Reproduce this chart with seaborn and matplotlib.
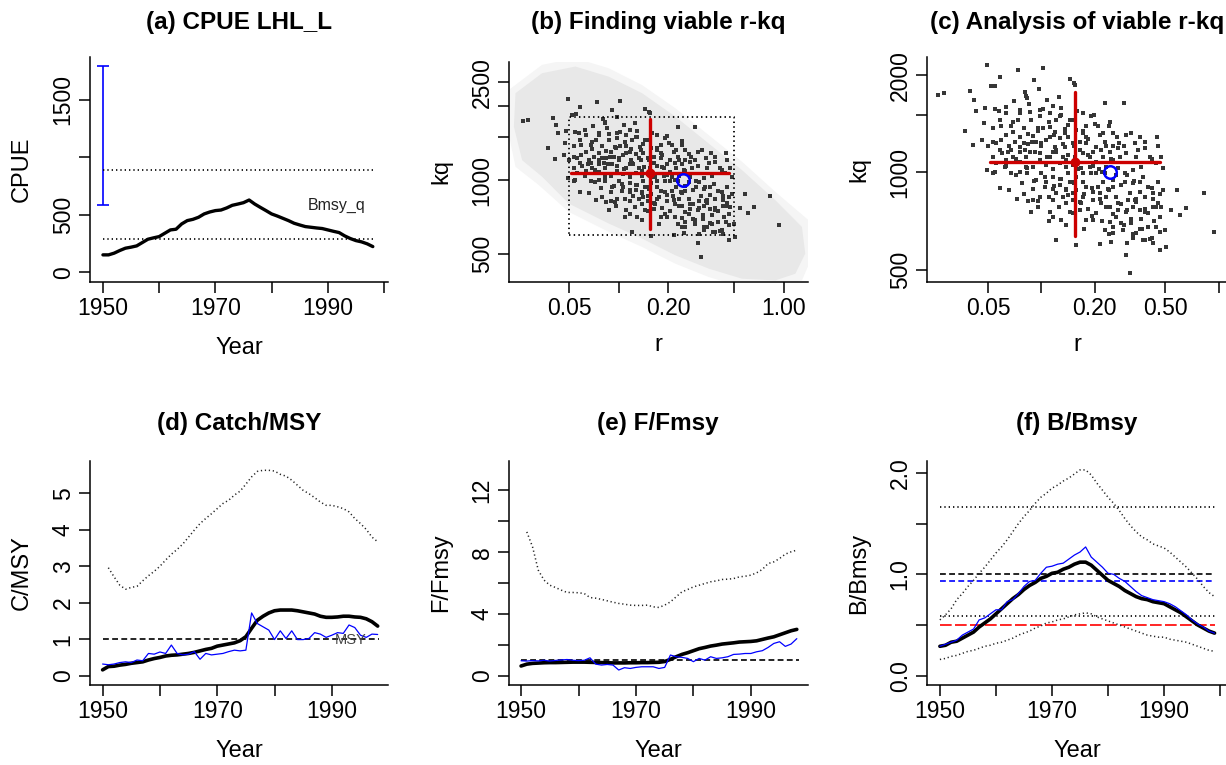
import numpy as np
import matplotlib
matplotlib.use("Agg")
import matplotlib.pyplot as plt
import seaborn as sns

sns.set_style("ticks")
plt.rcParams["font.family"] = ["Liberation Sans", "DejaVu Sans"]
plt.rcParams["text.color"] = "black"
plt.rcParams["axes.labelcolor"] = "black"
plt.rcParams["xtick.color"] = "black"
plt.rcParams["ytick.color"] = "black"

# ---------------- data ----------------
years_a = list(range(1950, 1999))
cpue = [153, 153, 168, 191, 211, 220, 231, 260, 289, 301, 312, 341, 370, 376, 422, 451, 462, 480,
        509, 526, 538, 543, 561, 584, 595, 607, 630, 595, 566, 538, 509, 491, 471, 451, 428, 413,
        399, 393, 387, 382, 370, 358, 347, 318, 295, 277, 266, 249, 225]
cpue_range_lo, cpue_range_hi = 590, 1796
bmsy_q_lines = [894, 291]

years_d = list(range(1950, 1999))
years_d_upper = list(range(1951, 1999))
catch_msy_med = [0.16, 0.25, 0.26, 0.29, 0.31, 0.34, 0.36, 0.38, 0.43, 0.47,
                 0.50, 0.54, 0.56, 0.57, 0.59, 0.61, 0.64, 0.68, 0.72, 0.75,
                 0.81, 0.84, 0.87, 0.90, 0.96, 1.07, 1.30, 1.52, 1.63, 1.72,
                 1.78, 1.80, 1.80, 1.80, 1.78, 1.75, 1.72, 1.69, 1.63, 1.60,
                 1.60, 1.61, 1.63, 1.63, 1.61, 1.60, 1.56, 1.48, 1.36]
catch_msy_obs = [0.32, 0.30, 0.32, 0.36, 0.38, 0.36, 0.43, 0.41, 0.61, 0.59,
                 0.65, 0.61, 0.84, 0.61, 0.57, 0.59, 0.66, 0.45, 0.61, 0.57,
                 0.59, 0.61, 0.66, 0.70, 0.68, 0.70, 1.72, 1.43, 1.34, 1.25,
                 0.99, 1.23, 1.02, 1.23, 0.99, 0.99, 1.02, 1.18, 1.14, 1.05,
                 1.11, 1.18, 1.16, 1.39, 1.32, 1.11, 1.05, 1.14, 1.13]
catch_msy_upper = [2.96, 2.71, 2.48, 2.37, 2.42, 2.45, 2.60, 2.74, 2.86,
                   3.00, 3.17, 3.33, 3.46, 3.61, 3.80, 3.99, 4.17, 4.31, 4.44,
                   4.58, 4.72, 4.81, 4.95, 5.06, 5.25, 5.45, 5.60, 5.63, 5.63,
                   5.61, 5.52, 5.47, 5.36, 5.22, 5.08, 4.99, 4.88, 4.76, 4.67,
                   4.67, 4.63, 4.58, 4.49, 4.31, 4.17, 4.01, 3.80, 3.67]

ffmsy_med = [0.63, 0.75, 0.80, 0.82, 0.84, 0.85, 0.85, 0.86, 0.87, 0.88,
             0.88, 0.88, 0.87, 0.86, 0.85, 0.84, 0.83, 0.83, 0.83, 0.84,
             0.84, 0.85, 0.85, 0.86, 0.87, 0.92, 1.06, 1.23, 1.38, 1.49,
             1.62, 1.75, 1.83, 1.92, 1.98, 2.05, 2.09, 2.13, 2.18, 2.20,
             2.22, 2.26, 2.35, 2.44, 2.52, 2.65, 2.78, 2.91, 3.00]
ffmsy_obs = [0.97, 0.95, 0.98, 0.96, 1.00, 0.95, 0.99, 1.02, 1.05, 1.00,
             0.98, 1.00, 1.16, 0.75, 0.69, 0.73, 0.69, 0.37, 0.52, 0.47,
             0.54, 0.58, 0.58, 0.58, 0.47, 0.54, 1.34, 1.23, 1.19, 1.12,
             0.91, 1.12, 1.01, 1.23, 1.12, 1.16, 1.23, 1.38, 1.40, 1.44,
             1.44, 1.55, 1.62, 1.83, 2.09, 2.20, 1.90, 2.05, 2.40]
ffmsy_upper = [9.31, 8.34, 6.83, 6.19, 5.86, 5.71, 5.54, 5.39, 5.39,
               5.37, 5.32, 5.06, 5.02, 4.94, 4.85, 4.76, 4.68, 4.63, 4.57,
               4.55, 4.55, 4.57, 4.46, 4.42, 4.57, 4.78, 5.11, 5.43, 5.58,
               5.75, 5.86, 5.97, 6.08, 6.14, 6.23, 6.25, 6.29, 6.40, 6.44,
               6.51, 6.66, 6.88, 7.26, 7.37, 7.59, 7.87, 8.02, 8.13]

years_f = list(range(1950, 2000))
bb_upper = [0.55, 0.60, 0.66, 0.75, 0.81, 0.88, 0.94, 1.01, 1.07, 1.14,
            1.21, 1.27, 1.34, 1.42, 1.50, 1.57, 1.63, 1.70, 1.76, 1.80,
            1.85, 1.88, 1.92, 1.95, 1.99, 2.03, 2.03, 1.98, 1.90, 1.83,
            1.76, 1.70, 1.63, 1.55, 1.48, 1.42, 1.37, 1.34, 1.30, 1.28,
            1.26, 1.22, 1.17, 1.12, 1.07, 1.01, 0.95, 0.88, 0.82, 0.78]
bb_lower = [0.16, 0.17, 0.19, 0.20, 0.22, 0.24, 0.25, 0.27, 0.29, 0.30,
            0.32, 0.33, 0.35, 0.37, 0.40, 0.42, 0.44, 0.47, 0.49, 0.52,
            0.53, 0.55, 0.56, 0.58, 0.60, 0.61, 0.62, 0.61, 0.58, 0.56,
            0.54, 0.52, 0.50, 0.48, 0.46, 0.44, 0.42, 0.40, 0.39, 0.38,
            0.38, 0.36, 0.35, 0.34, 0.33, 0.31, 0.29, 0.27, 0.25, 0.24]
bb_med = [0.29, 0.30, 0.33, 0.34, 0.37, 0.40, 0.43, 0.48, 0.52, 0.56,
          0.61, 0.66, 0.71, 0.76, 0.80, 0.85, 0.89, 0.92, 0.96, 0.98,
          1.01, 1.02, 1.05, 1.07, 1.10, 1.12, 1.12, 1.09, 1.04, 0.99,
          0.94, 0.91, 0.88, 0.84, 0.81, 0.78, 0.76, 0.75, 0.73, 0.72,
          0.71, 0.68, 0.65, 0.62, 0.58, 0.54, 0.50, 0.47, 0.44, 0.42]
bb_obs = [0.29, 0.31, 0.33, 0.35, 0.40, 0.43, 0.46, 0.55, 0.57, 0.61,
          0.65, 0.65, 0.73, 0.75, 0.81, 0.88, 0.93, 0.94, 1.01, 1.07,
          1.08, 1.10, 1.11, 1.15, 1.19, 1.22, 1.27, 1.17, 1.12, 1.07,
          1.01, 1.00, 0.96, 0.93, 0.88, 0.83, 0.79, 0.77, 0.75, 0.74,
          0.73, 0.71, 0.68, 0.64, 0.60, 0.55, 0.51, 0.48, 0.44, 0.42]
bb_ref_dotted = [1.662, 0.588]
bb_ref_black = 1.0
bb_ref_blue = 0.936
bb_ref_red = 0.5

# viable r-kq pairs (log10 values)
viable_log10_r = [
    -1.310, -1.132, -0.991, -1.235, -1.286, -1.260, -0.840, -0.818, -0.812, -1.041,
    -1.013, -1.551, -1.583, -1.401, -1.380, -1.320, -1.156, -1.094, -1.085, -1.070,
    -0.966, -0.902, -0.887, -0.953, -1.009, -1.062, -1.198, -1.241, -1.367, -1.325,
    -1.273, -1.429, -1.333, -1.386, -1.254, -1.301, -1.226, -1.160, -1.169, -1.135,
    -1.100, -1.075, -1.047, -1.019, -0.991, -0.953, -0.919, -0.897, -0.850, -0.803,
    -0.765, -0.821, -0.746, -0.718, -0.705, -0.643, -0.614, -0.535, -0.596, -0.520,
    -0.441, -0.347, -0.473, -0.417, -0.562, -0.596, -0.643, -0.690, -0.746, -0.784,
    -0.850, -0.897, -0.925, -0.972, -1.028, -1.075, -1.122, -1.169, -1.220, -1.273,
    -1.310, -1.235, -1.137, -1.075, -1.009, -1.107, -1.047, -0.972, -0.934, -0.897,
    -0.850, -0.821, -0.765, -0.727, -0.690, -0.652, -0.624, -0.596, -0.549, -0.502,
    -0.473, -0.445, -0.417, -0.370, -0.342, -0.313, -0.234, -0.182, -0.084, -0.026,
    -0.266, -0.219, -0.342, -0.370, -0.398, -0.436, -0.483, -0.520, -0.577, -0.614,
    -0.643, -0.596, -0.539, -0.492, -0.445, -0.389, -0.370, -0.332, -0.295, -0.304,
    -0.351, -0.426, -0.483, -0.520, -0.502, -0.605, -0.667, -0.803, -0.919, -0.746,
    -0.690, -0.784, -0.859, -0.887, -0.953, -1.019, -0.934, -0.821, -0.708, -0.661,
    -0.614, -0.549, -0.577, -0.633, -0.708, -0.765, -0.821, -0.859, -0.897, -1.000,
    -1.047, -1.085, -1.122, -1.160, -1.198, -1.066, -1.009, -0.953, -0.915, -0.878,
    -0.812, -0.765, -0.727, -0.690, -0.652, -0.596, -0.558, -0.520, -0.464, -0.389,
    -0.323, -0.355, -0.436, -0.483, -0.530, -0.577, -0.633, -0.675, -0.718, -0.765,
    -0.793, -0.821, -0.859, -0.897, -0.934, -0.972, -1.009, -1.038, -1.122, -1.188,
    -1.273, -1.122, -1.081, -0.915, -0.878, -0.803, -0.746, -0.680, -0.643, -0.596,
    -0.530, -0.483, -0.445, -0.398, -0.370, -0.351, -0.464, -0.417, -1.100, -1.150,
    -0.953, -0.868, -0.821, -0.934, -0.859, -0.784, -0.708, -0.661, -0.614, -0.568,
    -1.028, -0.981, -0.934, -0.840, -0.803, -0.850, -0.784, -0.737, -0.671, -0.633,
    -0.568, -0.511, -0.445, -0.492, -0.549, -0.596, -0.398, -0.464, -0.332, -0.708,
    -0.821, -0.934, -1.047, -1.169, -1.207, -1.254, -1.085, -1.000, -0.925, -0.868,
    -0.746, -0.652, -0.680, -1.122, -1.198, -1.226, -1.009, -1.122, -0.934, -0.765,
    -1.263, -1.232, -1.202, -1.162, -1.121, -1.081, -1.061, -1.020, -0.990, -0.960,
    -0.929, -0.889, -0.869, -0.838, -0.798, -0.768, -0.737, -0.697, -0.667, -0.636,
    -0.616, -0.576, -0.535, -0.495, -0.455, -0.414, -0.374, -0.344, -0.313, -1.273,
    -1.232, -1.182, -1.141, -1.091, -1.051, -1.000, -0.970, -0.919, -0.879, -0.849,
    -0.818, -0.778, -0.737, -0.707, -0.657, -0.606, -0.566, -0.515, -0.475, -0.424,
    -0.374, -0.333, -1.263, -1.202, -1.141, -1.081, -1.040, -0.980, -0.929, -0.889,
    -0.859, -0.818, -0.758, -0.717, -0.667, -0.616, -0.566, -0.515, -0.465, -0.414,
    -0.364, -0.323, -1.182, -1.101, -1.020, -0.960, -0.899, -0.838, -0.778, -0.717,
    -0.657, -0.596, -0.535, -0.485, -0.434, -0.374, -0.333, -1.061, -0.960, -0.859,
    -0.758, -0.616, -0.515, -0.414]
viable_log10_kq = [
    3.331, 3.317, 3.323, 3.295, 3.266, 3.268, 3.290, 3.278, 3.271, 3.286,
    3.258, 3.245, 3.238, 3.253, 3.224, 3.199, 3.221, 3.250, 3.235, 3.211,
    3.224, 3.233, 3.199, 3.183, 3.173, 3.188, 3.183, 3.191, 3.190, 3.152,
    3.137, 3.129, 3.100, 3.085, 3.090, 3.082, 3.100, 3.126, 3.142, 3.162,
    3.137, 3.119, 3.113, 3.129, 3.137, 3.140, 3.162, 3.175, 3.147, 3.131,
    3.121, 3.162, 3.142, 3.173, 3.178, 3.214, 3.157, 3.216, 3.121, 3.116,
    3.111, 3.111, 3.090, 3.074, 3.092, 3.082, 3.095, 3.080, 3.090, 3.095,
    3.111, 3.105, 3.080, 3.100, 3.095, 3.088, 3.080, 3.069, 3.059, 3.049,
    3.007, 2.953, 2.919, 2.911, 2.925, 2.968, 2.950, 2.971, 2.987, 2.981,
    2.997, 2.971, 2.997, 3.018, 2.997, 2.971, 2.950, 2.956, 2.961, 2.935,
    2.914, 2.940, 2.925, 2.935, 2.971, 2.945, 2.945, 2.891, 2.937, 2.816,
    2.885, 2.868, 2.906, 2.893, 2.873, 2.857, 2.893, 2.878, 2.862, 2.847,
    2.821, 2.811, 2.821, 2.842, 2.826, 2.795, 2.780, 2.759, 2.769, 2.821,
    2.831, 2.790, 2.798, 2.744, 2.689, 2.785, 2.778, 2.775, 2.790, 2.852,
    2.873, 2.883, 2.904, 2.852, 2.878, 2.893, 2.914, 2.935, 2.914, 2.904,
    2.893, 2.902, 2.925, 2.925, 2.940, 2.925, 2.914, 2.950, 2.961, 2.997,
    3.018, 3.049, 3.033, 3.049, 3.038, 3.064, 3.059, 3.049, 3.064, 3.049,
    3.049, 3.059, 3.049, 3.033, 3.049, 3.038, 3.049, 3.059, 3.049, 3.049,
    3.049, 3.030, 3.018, 3.007, 2.997, 2.992, 3.018, 3.012, 2.997, 2.971,
    3.012, 3.023, 3.018, 3.028, 3.012, 3.023, 3.038, 3.064, 3.064, 3.064,
    2.997, 3.002, 2.997, 2.935, 2.925, 2.945, 2.956, 2.956, 2.997, 2.976,
    2.971, 2.966, 2.971, 2.956, 2.919, 2.893, 2.909, 2.888, 3.090, 3.095,
    3.111, 3.080, 3.090, 3.064, 3.038, 3.069, 3.064, 3.069, 3.064, 3.074,
    2.976, 2.956, 2.950, 2.971, 2.987, 2.930, 2.909, 2.888, 2.935, 2.893,
    2.883, 2.914, 2.883, 2.857, 2.842, 2.831, 2.831, 2.811, 2.862, 2.852,
    2.873, 2.862, 2.914, 2.997, 3.018, 3.028, 3.018, 3.090, 3.126, 3.121,
    3.111, 3.121, 3.142, 3.111, 3.116, 3.142, 3.193, 3.193, 3.204, 3.183,
    3.197, 3.163, 3.203, 3.156, 3.183, 3.231, 3.163, 3.136, 3.197, 3.156,
    3.115, 3.176, 3.133, 3.163, 3.190, 3.129, 3.102, 3.149, 3.115, 3.081,
    3.142, 3.108, 3.081, 3.122, 3.068, 3.095, 3.041, 3.081, 3.014, 3.095,
    3.068, 3.081, 3.041, 3.068, 3.095, 3.081, 3.047, 3.068, 3.088, 3.054,
    3.081, 3.014, 3.054, 3.020, 3.000, 3.041, 3.014, 2.993, 2.973, 2.986,
    2.953, 2.932, 3.000, 3.020, 2.993, 3.014, 2.973, 2.986, 2.959, 2.980,
    2.946, 2.966, 2.932, 2.953, 2.919, 2.946, 2.905, 2.885, 2.919, 2.878,
    2.851, 2.892, 2.946, 2.932, 2.912, 2.925, 2.892, 2.878, 2.905, 2.864,
    2.851, 2.871, 2.837, 2.810, 2.824, 2.797, 2.817, 2.878, 2.851, 2.837,
    2.824, 2.810, 2.783, 2.790]

# outline of the explored (grey) r-kq cloud, log10 values
cloud_outer_log10_r = [-1.667, -1.465, -1.263, -1.061, -0.859, -0.657, -0.455, -0.253, -0.051,
                       0.152, 0.172, 0.111, -0.051, -0.253, -0.455, -0.657, -0.859, -1.061,
                       -1.303, -1.485, -1.626, -1.677]
cloud_outer_log10_kq = [3.366, 3.468, 3.495, 3.454, 3.386, 3.292, 3.183, 3.075, 2.953,
                        2.837, 2.688, 2.593, 2.559, 2.566, 2.607, 2.661, 2.729, 2.790,
                        2.871, 2.980, 3.054, 3.217]
cloud_inner_log10_r = [-1.626, -1.465, -1.263, -1.061, -0.859, -0.657, -0.455, -0.253, -0.051,
                       0.111, 0.131, 0.071, -0.051, -0.253, -0.455, -0.657, -0.859, -1.061,
                       -1.303, -1.465, -1.586, -1.636]
cloud_inner_log10_kq = [3.353, 3.434, 3.461, 3.420, 3.353, 3.258, 3.149, 3.041, 2.919,
                        2.810, 2.702, 2.620, 2.593, 2.600, 2.641, 2.695, 2.763, 2.824,
                        2.905, 3.014, 3.081, 3.217]

prior_r = [0.05, 0.5]
prior_kq = [601, 1799]
r_est, r_lo, r_hi = 0.155, 0.051, 0.466
kq_est, kq_lo, kq_hi = 1073, 636, 1778
bsm_r, bsm_kq = 0.245, 1002

# ---------------- layout ----------------
W, H = 1226, 765
fig = plt.figure(figsize=(W / 100, H / 100), dpi=100)

FS_TICK = 16.5
FS_LAB = 17
FS_TITLE = 17.5
DOT = (0, (0.8, 1.8))
DASH = (0, (3.5, 2.0))
LONGDASH = (0, (7, 2))
RED = "#CC0000"
PT_COLOR = "#363636"


def add_ax(l, t, r, b):
    return fig.add_axes([l / W, 1 - b / H, (r - l) / W, (b - t) / H])


def style(ax, xlabel, ylabel, xt, xtl, yt, ytl, w, h, xl_off=66):
    for s in ("top", "right"):
        ax.spines[s].set_visible(False)
    for s in ("left", "bottom"):
        ax.spines[s].set_linewidth(1.1)
        ax.spines[s].set_color("black")
    ax.set_xticks(xt)
    ax.set_xticklabels(xtl)
    ax.set_yticks(yt)
    ax.set_yticklabels(ytl, rotation=90, va="center")
    ax.xaxis.set_minor_locator(matplotlib.ticker.NullLocator())
    ax.yaxis.set_minor_locator(matplotlib.ticker.NullLocator())
    ax.tick_params(direction="out", length=8, width=1.1, labelsize=FS_TICK, pad=3,
                   colors="black")
    ax.set_xlabel(xlabel, fontsize=FS_LAB, va="center", color="black")
    ax.set_ylabel(ylabel, fontsize=FS_LAB, va="center", color="black")
    ax.xaxis.set_label_coords(0.5, -xl_off / h)
    ax.yaxis.set_label_coords(-68 / w, 0.5)
    ax.grid(False)
    ax.set_facecolor("white")


def title(cx, baseline, text):
    fig.text(cx / W, 1 - baseline / H, text, ha="center", va="baseline",
             fontsize=FS_TITLE, fontweight="bold", color="black")


# (a) CPUE
ax = add_ax(90, 57, 388, 282)
ax.errorbar([years_a[0]], [(cpue_range_lo + cpue_range_hi) / 2],
            yerr=[[(cpue_range_hi - cpue_range_lo) / 2], [(cpue_range_hi - cpue_range_lo) / 2]],
            fmt="none", ecolor="blue", elinewidth=1.2, capsize=4.5, capthick=1.2)
ax.hlines(bmsy_q_lines, years_a[0], years_a[-1] + 0.6, colors="black", linewidth=1.2,
          linestyles=[DOT, DOT])
sns.lineplot(x=years_a, y=cpue, ax=ax, color="black", linewidth=2.4)
ax.text(1991.6, 587, "Bmsy_q", ha="center", va="center", fontsize=11.5, color="#222222")
ax.set_xlim(1947.7, 2000.7)
ax.set_ylim(-83, 1874)
style(ax, "Year", "CPUE", [1950, 1960, 1970, 1980, 1990, 2000],
      ["1950", "", "1970", "", "1990", ""], [0, 500, 1000, 1500], ["0", "500", "", "1500"],
      298, 225)
title(239, 29, "(a) CPUE LHL_L")

# (b) Finding viable r-kq
ax = add_ax(509, 62, 808, 282)
ax.set_xscale("log")
ax.set_yscale("log")
ax.fill(np.power(10.0, cloud_outer_log10_r), np.power(10.0, cloud_outer_log10_kq),
        color="#F5F5F5", linewidth=0, zorder=0)
ax.fill(np.power(10.0, cloud_inner_log10_r), np.power(10.0, cloud_inner_log10_kq),
        color="#E8E8E8", linewidth=0, zorder=0.5)
sns.scatterplot(x=np.power(10.0, viable_log10_r), y=np.power(10.0, viable_log10_kq), ax=ax,
                marker="s", s=7, color=PT_COLOR, linewidth=0, zorder=2)
ax.plot([prior_r[0], prior_r[1], prior_r[1], prior_r[0], prior_r[0]],
        [prior_kq[0], prior_kq[0], prior_kq[1], prior_kq[1], prior_kq[0]],
        color="black", linewidth=1.3, linestyle=DOT, zorder=3)
ax.plot([r_lo, r_hi], [kq_est, kq_est], color=RED, linewidth=2.4, zorder=4)
ax.plot([r_est, r_est], [kq_lo, kq_hi], color=RED, linewidth=2.4, zorder=4)
ax.plot([r_est], [kq_est], marker="o", markersize=6, color=RED, zorder=4)
ax.plot([bsm_r], [bsm_kq], marker="o", markersize=9, markerfacecolor="none",
        markeredgecolor="blue", markeredgewidth=1.8, zorder=5)
ax.set_xlim(0.0216, 1.405)
ax.set_ylim(386, 3016)
style(ax, "r", "kq", [0.05, 0.1, 0.2, 0.5, 1.0], ["0.05", "", "0.20", "", "1.00"],
      [500, 1000, 1500, 2000, 2500], ["500", "1000", "", "", "2500"], 299, 220, xl_off=63)
title(658, 29, "(b) Finding viable r-kq")

# (c) Analysis of viable r-kq
ax = add_ax(927, 57, 1228, 282)
ax.set_xscale("log")
ax.set_yscale("log")
sns.scatterplot(x=np.power(10.0, viable_log10_r), y=np.power(10.0, viable_log10_kq), ax=ax,
                marker="s", s=7, color=PT_COLOR, linewidth=0, zorder=2)
ax.plot([r_lo, r_hi], [kq_est, kq_est], color=RED, linewidth=2.4, zorder=4)
ax.plot([r_est, r_est], [kq_lo, kq_hi], color=RED, linewidth=2.4, zorder=4)
ax.plot([r_est], [kq_est], marker="o", markersize=6, color=RED, zorder=4)
ax.plot([bsm_r], [bsm_kq], marker="o", markersize=9, markerfacecolor="none",
        markeredgecolor="blue", markeredgewidth=1.8, zorder=5)
ax.set_xlim(0.0226, 1.13)
ax.set_ylim(458, 2275)
style(ax, "r", "kq", [0.05, 0.1, 0.2, 0.5, 1.0], ["0.05", "", "0.20", "0.50", ""],
      [500, 1000, 1500, 2000], ["500", "1000", "", "2000"], 301, 225, xl_off=63)
title(1077, 29, "(c) Analysis of viable r-kq")

# (d) Catch/MSY
ax = add_ax(90, 461, 388, 685)
ax.hlines([1.0], years_d[0], years_d[-1] + 0.3, colors="black", linewidth=1.2,
          linestyles=[DASH])
ax.text(1993.2, 0.99, "MSY", ha="center", va="center", fontsize=10.5, color="#444444")
sns.lineplot(x=years_d_upper, y=catch_msy_upper, ax=ax, color="#222222", linewidth=1.1,
             linestyle=DOT)
sns.lineplot(x=years_d, y=catch_msy_med, ax=ax, color="black", linewidth=2.6)
sns.lineplot(x=years_d, y=catch_msy_obs, ax=ax, color="blue", linewidth=0.9)
ax.set_xlim(1947.8, 1999.8)
ax.set_ylim(-0.255, 5.885)
style(ax, "Year", "C/MSY", [1950, 1960, 1970, 1980, 1990], ["1950", "", "1970", "", "1990"],
      [0, 1, 2, 3, 4, 5], ["0", "1", "2", "3", "4", "5"], 298, 224)
title(239, 430, "(d) Catch/MSY")

# (e) F/Fmsy
ax = add_ax(509, 461, 808, 685)
ax.hlines([1.0], years_d[0], years_d[-1] + 0.3, colors="black", linewidth=1.2,
          linestyles=[DASH])
sns.lineplot(x=years_d_upper, y=ffmsy_upper, ax=ax, color="#222222", linewidth=1.1,
             linestyle=DOT)
sns.lineplot(x=years_d, y=ffmsy_med, ax=ax, color="black", linewidth=2.6)
sns.lineplot(x=years_d, y=ffmsy_obs, ax=ax, color="blue", linewidth=0.9)
ax.set_xlim(1947.9, 1999.95)
ax.set_ylim(-0.6, 13.9)
style(ax, "Year", "F/Fmsy", [1950, 1960, 1970, 1980, 1990], ["1950", "", "1970", "", "1990"],
      [0, 2, 4, 6, 8, 10, 12], ["0", "", "4", "", "8", "", "12"], 299, 224)
title(658, 430, "(e) F/Fmsy")

# (f) B/Bmsy
ax = add_ax(927, 461, 1228, 685)
ax.hlines(bb_ref_dotted, years_f[0], years_f[-1], colors="black", linewidth=1.2,
          linestyles=[DOT, DOT])
ax.hlines([bb_ref_black], years_f[0], years_f[-1], colors="black", linewidth=1.2,
          linestyles=[DASH])
ax.hlines([bb_ref_blue], years_f[0], years_f[-1], colors="blue", linewidth=1.2,
          linestyles=[DASH])
ax.hlines([bb_ref_red], years_f[0], years_f[-1], colors="red", linewidth=1.2,
          linestyles=[LONGDASH])
sns.lineplot(x=years_f, y=bb_upper, ax=ax, color="#222222", linewidth=1.1, linestyle=DOT)
sns.lineplot(x=years_f, y=bb_lower, ax=ax, color="#222222", linewidth=1.1, linestyle=DOT)
sns.lineplot(x=years_f, y=bb_med, ax=ax, color="black", linewidth=2.6)
sns.lineplot(x=years_f, y=bb_obs, ax=ax, color="blue", linewidth=0.9)
ax.set_xlim(1947.7, 2001.4)
ax.set_ylim(-0.092, 2.118)
style(ax, "Year", "B/Bmsy", [1950, 1960, 1970, 1980, 1990, 2000],
      ["1950", "", "1970", "", "1990", ""], [0, 0.5, 1.0, 1.5, 2.0],
      ["0.0", "", "1.0", "", "2.0"], 301, 224)
title(1077, 430, "(f) B/Bmsy")

fig.savefig("out.png", dpi=100, facecolor="white")
